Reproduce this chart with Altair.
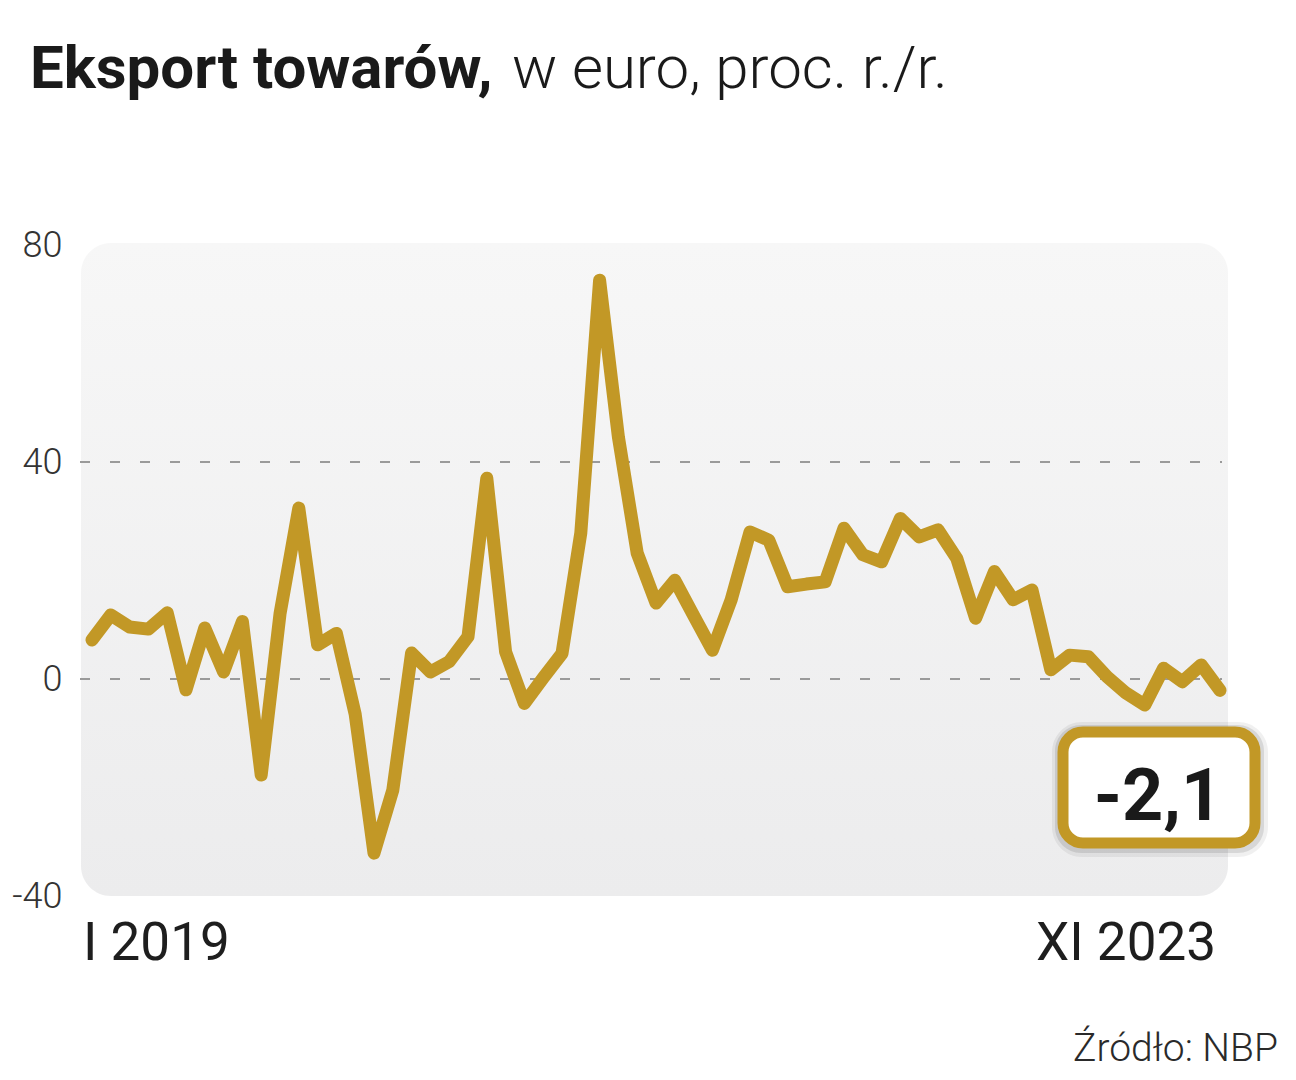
import altair as alt
import pandas as pd

# ---- data ----
months_index = list(range(61))
export_yoy = [
    7.2, 11.8, 9.6, 9.2, 12.2, -2.0, 9.4, 1.3, 10.6, -17.7,
    12.0, 31.5, 6.3, 8.4, -6.5, -32.1, -20.5, 4.8, 1.3, 3.2,
    7.8, 37.0, 5.0, -4.5, 0.2, 4.7, 26.9, 73.5, 44.6, 23.2,
    14.0, 18.2, 11.7, 5.3, 14.6, 27.1, 25.6, 17.0, 17.5, 17.9,
    27.8, 22.9, 21.6, 29.6, 26.2, 27.5, 22.2, 11.2, 19.8, 14.6,
    16.4, 1.7, 4.4, 4.1, 0.4, -2.6, -4.8, 2.0, -0.5, 2.6,
    -2.1,
]
y_ticks = [-40, 0, 40, 80]
grid_values = [40, 0]
x_label_pos = [0, 60]
x_label_text = ["I 2019", "XI 2023"]
callout_text = ["-2,1"]
title_bold = "Eksport towarów,"
title_light = "w euro, proc. r./r."
source_text = "Źródło: NBP"

LINE_COLOR = "#C29826"
W, H = 1128, 651

df = pd.DataFrame({"m": months_index, "v": export_yoy})
one = pd.DataFrame({"a": [0]})
grid_df = pd.DataFrame({"g": grid_values})
xl_df = pd.DataFrame({"m": x_label_pos, "t": x_label_text})

xs = alt.Scale(domain=[0, 60], nice=False, zero=False)
ys = alt.Scale(domain=[-40, 80], nice=False, zero=False)

bg = alt.Chart(one).mark_rect(
    cornerRadius=30,
    fill=alt.Gradient(
        gradient="linear",
        stops=[alt.GradientStop(color="#f7f7f7", offset=0),
               alt.GradientStop(color="#ececed", offset=1)],
        x1=0, x2=0, y1=0, y2=1,
    ),
).encode(x=alt.value(-11), x2=alt.value(1136), y=alt.value(-2), y2=alt.value(651))

grid = alt.Chart(grid_df).mark_rule(
    color="#9a9a9a", strokeWidth=2, strokeDash=[10, 20]
).encode(
    y=alt.Y("g:Q", scale=ys,
            axis=alt.Axis(values=y_ticks, grid=False, domain=False, ticks=False,
                          labelPadding=30, labelFontSize=36, labelFont="Roboto",
                          labelFontWeight=300, labelColor="#333333", title=None,
                          labelExpr="'' + datum.value")),
    x=alt.value(-12), x2=alt.value(1130),
)

line = alt.Chart(df).mark_line(
    color=LINE_COLOR, strokeWidth=13, strokeJoin="round", strokeCap="round"
).encode(
    x=alt.X("m:Q", scale=xs, axis=None),
    y=alt.Y("v:Q", scale=ys),
)

xlab_left = alt.Chart(xl_df.iloc[[0]]).mark_text(
    font="Roboto", fontSize=53, color="#1e1e1e", align="left", baseline="alphabetic", dx=-9
).encode(x=alt.X("m:Q", scale=xs), y=alt.value(715), text="t:N")
xlab_right = alt.Chart(xl_df.iloc[[1]]).mark_text(
    font="Roboto", fontSize=53, color="#1e1e1e", align="right", baseline="alphabetic", dx=-4
).encode(x=alt.X("m:Q", scale=xs), y=alt.value(715), text="t:N")

shadow1 = alt.Chart(one).mark_rect(cornerRadius=30, color="#000000", opacity=0.06).encode(
    x=alt.value(960), x2=alt.value(1176), y=alt.value(477), y2=alt.value(612))
shadow2 = alt.Chart(one).mark_rect(cornerRadius=26, color="#000000", opacity=0.10).encode(
    x=alt.value(963), x2=alt.value(1172), y=alt.value(480), y2=alt.value(608))
box = alt.Chart(one).mark_rect(
    cornerRadius=20, fill="#ffffff", stroke=LINE_COLOR, strokeWidth=11
).encode(x=alt.value(971), x2=alt.value(1163), y=alt.value(487), y2=alt.value(598))
callout = alt.Chart(pd.DataFrame({"t": callout_text})).mark_text(
    font="Roboto", fontWeight="bold", fontSize=72, color="#1a1a1a",
    align="center", baseline="alphabetic"
).encode(x=alt.value(1066), y=alt.value(575), text="t:N")

t1 = alt.Chart(pd.DataFrame({"t": [title_bold]})).mark_text(
    font="Roboto", fontWeight="bold", fontSize=60, color="#1a1a1a",
    align="left", baseline="alphabetic"
).encode(x=alt.value(-62), y=alt.value(-157), text="t:N")
t2 = alt.Chart(pd.DataFrame({"t": [title_light]})).mark_text(
    font="Roboto", fontWeight=300, fontSize=60, color="#1a1a1a",
    align="left", baseline="alphabetic"
).encode(x=alt.value(420), y=alt.value(-157), text="t:N")

src = alt.Chart(pd.DataFrame({"t": [source_text]})).mark_text(
    font="Roboto", fontWeight=300, fontSize=39, color="#2a2a2a",
    align="right", baseline="alphabetic"
).encode(x=alt.value(1186), y=alt.value(816), text="t:N")

chart = alt.layer(
    bg, grid, line, xlab_left, xlab_right, shadow1, shadow2, box, callout, t1, t2, src
).properties(
    width=W, height=H,
    autosize=alt.AutoSizeParams(type="none"),
    padding={"left": 84, "top": 237, "right": 60, "bottom": 182},
    background="#ffffff",
).configure_view(stroke=None)

chart.save("out.html", embed_options={"renderer": "svg", "actions": False})
